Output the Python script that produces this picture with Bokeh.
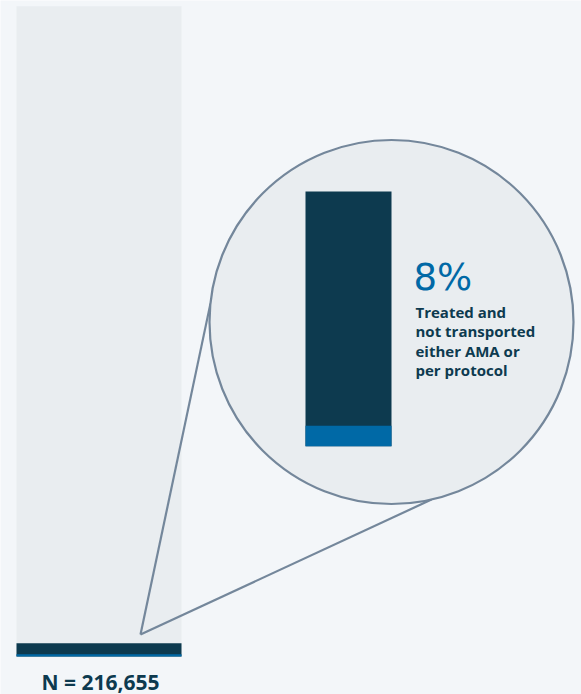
import numpy as np
from bokeh.plotting import figure
from bokeh.models import Range1d
from bokeh.core.properties import value
from bokeh.embed import file_html
from bokeh.resources import INLINE

# ---- data ----
total_n = 216655
total_label = "N = 216,655"
whole_pct = 100.0          # whole population bar
subset_pct = 2.05          # highlighted subset (share of whole, %)
main_blue_pct = 0.35       # blue sliver at the foot of the whole bar (%)
subset_blue_pct = 8.0      # share of subset treated and not transported (%)
pct_label = "8%"
desc_lines = ["Treated and", "not transported", "either AMA or", "per protocol"]

# ---- colours ----
BG = "#f3f6f9"
GRAY = "#e9edf0"
DARK = "#0d3a4f"
BLUE = "#0069a6"
LINE = "#74879b"

W, H = 581, 694
p = figure(width=W, height=H, output_backend="svg", toolbar_location=None,
           x_range=Range1d(0, W), y_range=Range1d(H, 0), min_border=0)
p.axis.visible = False
p.xgrid.visible = False
p.ygrid.visible = False
p.outline_line_color = None
p.background_fill_color = BG
p.border_fill_color = BG

# scale for main bar: 0 at pixel 656, 100 at pixel 5.7
main_bottom_px, main_top_px = 656.0, 5.7
k_main = (main_bottom_px - main_top_px) / 100.0
p.extra_y_ranges["main"] = Range1d((main_bottom_px - H) / k_main, main_bottom_px / k_main)
# scale for zoom bar: 0 at pixel 445.7, 100 at pixel 191
zoom_bottom_px, zoom_top_px = 445.7, 191.0
k_zoom = (zoom_bottom_px - zoom_top_px) / 100.0
p.extra_y_ranges["zoom"] = Range1d((zoom_bottom_px - H) / k_zoom, zoom_bottom_px / k_zoom)

# main bar
main_x, main_w = 98.5, 165
p.vbar(x=[main_x], width=main_w, bottom=[0], top=[whole_pct], fill_color=GRAY,
       line_color=None, y_range_name="main")
p.vbar(x=[main_x], width=main_w, bottom=[0], top=[subset_pct], fill_color=DARK,
       line_color=None, y_range_name="main")
p.vbar(x=[main_x], width=main_w, bottom=[0], top=[main_blue_pct],
       fill_color=BLUE, line_color=None, y_range_name="main")

# magnifier
cx, cy, r = 391.0, 321.5, 182.0
px, py = 140.0, 634.0
angles = np.deg2rad([185.8, 77.3])
for a in angles:
    ex, ey = cx + r * np.cos(a), cy + r * np.sin(a)
    p.line([px, ex], [py, ey], line_color=LINE, line_width=2.2)
p.circle(x=[cx], y=[cy], radius=r, fill_color=GRAY, line_color=LINE, line_width=2.2)

# zoomed bar
zx, zw = 348.0, 86
p.vbar(x=[zx], width=zw, bottom=[0], top=[100], fill_color=DARK, line_color=None,
       y_range_name="zoom")
p.vbar(x=[zx], width=zw, bottom=[0], top=[subset_blue_pct], fill_color=BLUE,
       line_color=None, y_range_name="zoom")

# texts
p.text(x=[413], y=[277], text=[pct_label], text_font=value("DejaVu Sans"),
       text_font_size="37px", text_color=BLUE, text_baseline="alphabetic")
p.text(x=[415] * len(desc_lines), y=[311.5 + 19.4 * i for i in range(len(desc_lines))],
       text=desc_lines, text_font=value("Open Sans"), text_font_style="bold",
       text_font_size="15px", text_color=DARK, text_baseline="alphabetic")
p.text(x=[100], y=[681], text=[total_label], text_font=value("Open Sans"),
       text_font_style="bold", text_font_size="21px", text_color=DARK,
       text_align="center", text_baseline="alphabetic")

open("out.html", "w").write(file_html(p, INLINE))
